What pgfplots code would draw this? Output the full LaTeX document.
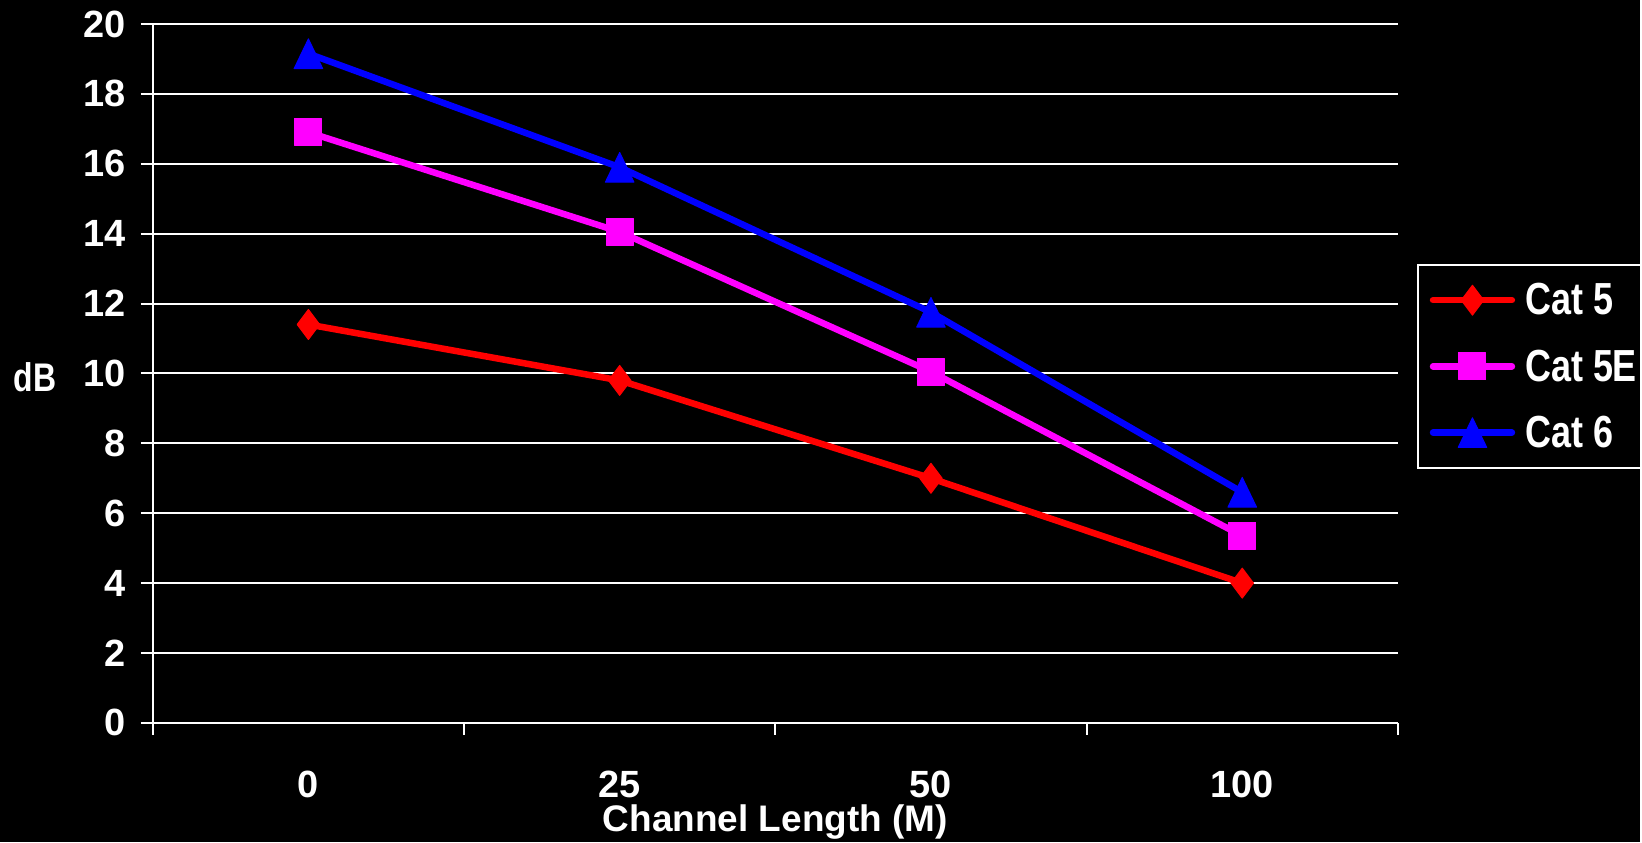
\documentclass[border=0pt]{standalone}
\usepackage{fontspec}
\setmainfont{Liberation Sans}
\usepackage{pgfplots}
\pgfplotsset{compat=1.18}
\definecolor{catred}{RGB}{255,0,0}
\definecolor{catmag}{RGB}{255,0,255}
\definecolor{catblue}{RGB}{0,0,255}
\newcommand{\bigbf}{\fontsize{36bp}{40bp}\selectfont\bfseries}
\newcommand{\tickbf}{\fontsize{38bp}{42bp}\selectfont\bfseries}

\begin{document}
\begin{tikzpicture}
% black slide background, 1642 x 843
\fill[black] (-153bp,-119bp) rectangle (1489bp,724bp);
\begin{axis}[
    scale only axis, width=1247bp, height=700bp,
    at={(0,0)}, anchor=south west,
    xmin=-0.5, xmax=3.5, ymin=0, ymax=20,
    axis x line*=bottom, axis y line*=left,
    axis line style={white, line width=2bp, -},
    xtick={0,1,2,3}, xticklabels={0,25,50,100},
    minor xtick={-0.5,0.5,1.5,2.5,3.5},
    major x tick style={draw=none},
    ytick={0,2,...,20},
    tick align=outside,
    major tick length=12bp, minor tick length=12bp,
    every tick/.style={white, line width=2bp},
    ymajorgrids, grid style={white, line width=2bp},
    /pgf/number format/assume math mode=true,
    tick label style={white, font=\tickbf},
    xticklabel style={yshift=-33bp},
    yticklabel style={xshift=-12bp},
    xlabel={Channel Length (M)},
    xlabel style={white, font=\fontsize{37bp}{41bp}\selectfont\bfseries,
        at={(axis description cs:0.5,-0.155)}, anchor=base},
    ylabel={dB},
    ylabel style={white, font=\fontsize{32bp}{36bp}\selectfont\bfseries, rotate=-90, yscale=1.25,
        at={(axis description cs:-0.0946,0.474)}, anchor=base},
    legend style={at={(axis description cs:1.0152,0.6571)}, anchor=north west,
        draw=white, line width=2bp, fill=black, text=white, font=\bigbf,
        inner xsep=4bp, inner ysep=19bp, row sep=33bp,
        nodes={inner sep=0pt, yscale=1.25},
        /tikz/every odd column/.append style={column sep=10bp}},
    legend cell align=left,
    legend image code/.code={%
        \path (0bp,0bp);
        \draw[mark repeat=2, mark phase=2] plot coordinates {(8bp,0bp) (47.5bp,0bp) (87bp,0bp)};},
    every axis plot/.append style={line width=6.5bp, line join=round, line cap=round},
]
\addplot[catred, mark=diamond*, mark size=15bp, mark options={solid, line width=1bp}]
    coordinates {(0,11.4) (1,9.8) (2,7.0) (3,4.0)};
\addplot[catmag, mark=square*, mark size=13.5bp, mark options={solid, line width=1bp}]
    coordinates {(0,16.9) (1,14.05) (2,10.05) (3,5.35)};
\addplot[catblue, mark=triangle*, mark size=16.5bp, mark options={solid, line width=1bp, yshift=-5bp, yscale=1.2}]
    coordinates {(0,19.15) (1,15.9) (2,11.75) (3,6.6)};
\legend{Cat 5, Cat 5E, Cat 6}
\end{axis}
\end{tikzpicture}
\end{document}
